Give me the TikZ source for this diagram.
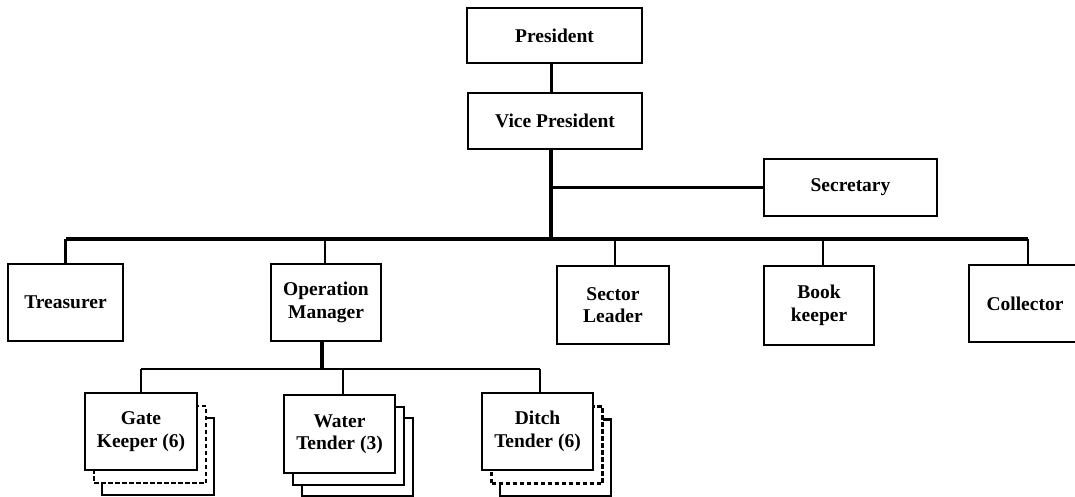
\documentclass[tikz,border=0pt]{standalone}
\usepackage{fontspec}
\setmainfont{Liberation Serif}
\begin{document}
\begin{tikzpicture}[x=1pt,y=-1pt,
  box/.style={draw, line width=2.2pt, fill=white, align=center, inner sep=0pt,
    font=\fontsize{19.5}{22.5}\selectfont\bfseries},
  backbox/.style={box},
  dashbox/.style={box, dash pattern=on 4.5pt off 2.5pt},
  link/.style={line width=3.2pt},
  sublink/.style={line width=2.6pt}]
\useasboundingbox (0,0) rectangle (1075,497);
\clip (0,0) rectangle (1075,497);
% top
\node[box, minimum width=175pt, minimum height=55pt] (pres) at (554.5,35.5) {President};
\node[box, minimum width=174pt, minimum height=56pt] (vp) at (555,121) {Vice President};
\node[box, minimum width=173pt, minimum height=57pt] (sec) at (850.5,187.5) {Secretary};
% middle row
\node[box, minimum width=115pt, minimum height=77pt] (tre) at (65.5,302.5) {Treasurer};
\node[box, minimum width=110pt, minimum height=77pt] (om) at (326,302.5) {Operation\\Manager};
\node[box, minimum width=112pt, minimum height=78pt] (sl) at (613,305) {Sector\\Leader};
\node[box, minimum width=110pt, minimum height=79pt] (bk) at (819,305.5) {Book\\keeper};
\node[box, minimum width=112pt, minimum height=77pt] (col) at (1025,303.5) {Collector};
% bottom row with stacks
\node[backbox, minimum width=112pt, minimum height=77pt] (gk3) at (158,456.5) {};
\node[dashbox, minimum width=112pt, minimum height=77pt] (gk2) at (150,444.5) {};
\node[box, minimum width=112pt, minimum height=77pt] (gk) at (141,431.5) {Gate\\Keeper (6)};
\node[backbox, minimum width=111pt, minimum height=78pt] (wt3) at (357.5,457) {};
\node[backbox, minimum width=111pt, minimum height=78pt] (wt2) at (348.5,446) {};
\node[box, minimum width=111pt, minimum height=78pt] (wt) at (339.5,434) {Water\\Tender (3)};
\node[backbox, minimum width=111pt, minimum height=77pt] (dt3) at (555.5,458) {};
\node[dashbox, minimum width=111pt, minimum height=77pt] (dt2) at (547,445) {};
\node[box, minimum width=111pt, minimum height=77pt] (dt) at (537.5,431.5) {Ditch\\Tender (6)};
% connectors
\coordinate (bus) at (0,239);
\coordinate (sub) at (0,369);
\draw[link] ([xshift=-3pt]pres.south) -- ([xshift=-3pt]pres.south |- vp.north);
\draw[link] ([xshift=-4pt]vp.south) -- ([xshift=-4pt]vp.south |- bus);
\draw[sublink] ([xshift=-4pt]vp.south |- sec.west) -- (sec.west);
\draw[link] (tre.north |- bus) -- ([xshift=3pt]col.north |- bus);
\draw[sublink] (tre.north) -- (tre.north |- bus);
\draw[sublink] ([xshift=-1pt]om.north) -- ([xshift=-1pt]om.north |- bus);
\draw[sublink] ([xshift=2pt]sl.north) -- ([xshift=2pt]sl.north |- bus);
\draw[sublink] ([xshift=4pt]bk.north) -- ([xshift=4pt]bk.north |- bus);
\draw[sublink] ([xshift=3pt]col.north) -- ([xshift=3pt]col.north |- bus);
\draw[link] ([xshift=-4pt]om.south) -- ([xshift=-4pt]om.south |- sub);
\draw[sublink] (gk.north |- sub) -- ([xshift=2.5pt]dt.north |- sub);
\draw[sublink] (gk.north) -- (gk.north |- sub);
\draw[sublink] ([xshift=3.5pt]wt.north) -- ([xshift=3.5pt]wt.north |- sub);
\draw[sublink] ([xshift=2.5pt]dt.north) -- ([xshift=2.5pt]dt.north |- sub);
\end{tikzpicture}
\end{document}
